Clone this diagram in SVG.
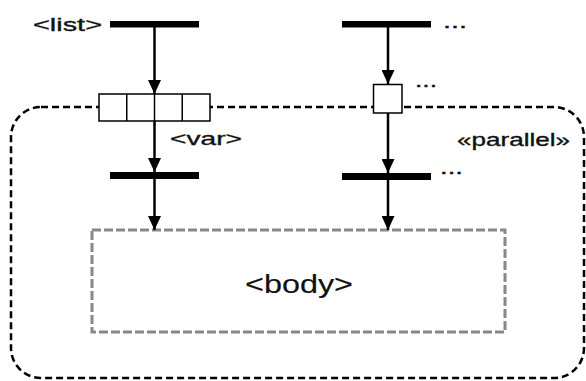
<svg xmlns="http://www.w3.org/2000/svg" width="586" height="381" viewBox="0 0 586 381">
<style>
.bar{fill:#000}
.lbl{font-family:"Liberation Sans",Arial,sans-serif;font-size:19px;fill:#111;stroke:#111;stroke-width:0.35}
.cell{fill:#fff;stroke:#000;stroke-width:1.5}
.edge{stroke:#000;stroke-width:2.5;fill:none}
</style>
<defs>
<marker id="ah" viewBox="0 0 14 13" refX="14" refY="6.5" markerWidth="14" markerHeight="13" markerUnits="userSpaceOnUse" orient="auto">
<path d="M0,0 L14,6.5 L0,13 Z" fill="#000"/>
</marker>
</defs>
<rect width="586" height="381" fill="#fff"/>
<g id="parallel-region">
<rect x="11" y="107" width="573" height="271" rx="30" ry="30" fill="none" stroke="#000" stroke-width="2.5" stroke-dasharray="7 4"/>
<text class="lbl" x="457" y="146" textLength="113" lengthAdjust="spacingAndGlyphs">«parallel»</text>
</g>
<g id="body">
<rect x="92" y="230" width="413" height="102" fill="none" stroke="#888" stroke-width="3" stroke-dasharray="9 3"/>
<text class="lbl" x="245" y="293" style="font-size:25px;stroke-width:0.15" textLength="108" lengthAdjust="spacingAndGlyphs">&lt;body&gt;</text>
</g>
<g id="connectors">
<line class="edge" x1="154.5" y1="27" x2="154.5" y2="94" marker-end="url(#ah)"/>
<line class="edge" x1="154.5" y1="121" x2="154.5" y2="172" marker-end="url(#ah)"/>
<line class="edge" x1="154.5" y1="179" x2="154.5" y2="230" marker-end="url(#ah)"/>
<line class="edge" x1="388" y1="27" x2="388" y2="84" marker-end="url(#ah)"/>
<line class="edge" x1="388" y1="113" x2="388" y2="173" marker-end="url(#ah)"/>
<line class="edge" x1="388" y1="180" x2="388" y2="230" marker-end="url(#ah)"/>
</g>
<g id="list-fork">
<rect class="bar" x="110" y="21" width="89" height="6.5"/>
<text class="lbl" x="33" y="31" textLength="69" lengthAdjust="spacingAndGlyphs">&lt;list&gt;</text>
</g>
<g id="var-pins">
<rect class="cell" x="99" y="94" width="111" height="27"/>
<line x1="126.75" y1="94" x2="126.75" y2="121" stroke="#000" stroke-width="1.5"/>
<line x1="154.5" y1="94" x2="154.5" y2="121" stroke="#000" stroke-width="1.5"/>
<line x1="182.25" y1="94" x2="182.25" y2="121" stroke="#000" stroke-width="1.5"/>
<text class="lbl" x="170" y="144.5" textLength="72" lengthAdjust="spacingAndGlyphs">&lt;var&gt;</text>
</g>
<g id="var-join">
<rect class="bar" x="110" y="172" width="89" height="7"/>
</g>
<g id="other-fork">
<rect class="bar" x="342" y="21" width="89" height="6.5"/>
<text class="lbl" x="443" y="27.5" textLength="24" lengthAdjust="spacingAndGlyphs">...</text>
</g>
<g id="other-pin">
<rect class="cell" x="373.5" y="84.5" width="28.5" height="28.5"/>
<text class="lbl" x="415" y="86.5" textLength="22" lengthAdjust="spacingAndGlyphs">...</text>
</g>
<g id="other-join">
<rect class="bar" x="342" y="173" width="89" height="7"/>
<text class="lbl" x="440" y="174" textLength="23" lengthAdjust="spacingAndGlyphs">...</text>
</g>
</svg>
